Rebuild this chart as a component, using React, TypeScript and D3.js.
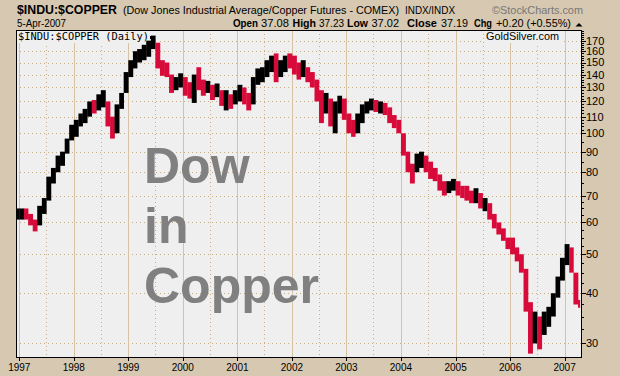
import React from "react";
import * as d3 from "d3";

const W = 620;
const H = 376;
const PL = 16, PT = 30, PR = 582, PB = 358;

// monthly bars, Dec 1996 .. Apr 2007 (Apr 2007 partial, to 5-Apr)
const firstMonth = new Date(1996, 11, 1);
const lastDay = new Date(2007, 3, 5);

const highs = [
  65,
  65, 65, 63, 61, 66, 69, 78, 82, 88, 90, 97, 105,
  108, 112, 115, 120, 121, 125, 128, 120, 110, 118, 126, 142,
  152, 160, 162, 166, 170, 175, 168, 152, 150, 140, 138, 141,
  138, 134, 140, 146, 136, 135, 132, 133, 128, 128, 125, 128,
  132, 130, 126, 138, 145, 146, 152, 156, 158, 152, 156, 158,
  156, 150, 152, 146, 142, 136, 128, 126, 122, 120, 124, 122,
  112, 108, 112, 118, 120, 122, 121, 120, 119, 116, 111, 108,
  100, 90, 84, 89, 90, 88, 85, 82, 79, 76, 76, 77,
  76, 74, 74, 72, 73, 71, 69, 67, 63, 60, 58, 55,
  55, 52, 50, 46, 38, 36, 35, 36, 37, 40, 44, 49,
  53, 52, 45, 38.5,
];
const lows = [
  61,
  61, 61, 59, 57, 59, 63, 68, 75, 80, 83, 89, 96,
  98, 104, 106, 110, 112, 114, 116, 104, 97, 100, 115, 126,
  138, 145, 150, 152, 155, 162, 145, 139, 138, 126, 128, 130,
  124, 122, 119, 128, 124, 126, 121, 123, 117, 114, 115, 118,
  120, 118, 114, 118, 132, 134, 138, 142, 134, 138, 142, 145,
  140, 136, 138, 134, 130, 120, 106, 112, 104, 100, 112, 108,
  100, 98, 100, 106, 112, 114, 113, 112, 111, 106, 103, 100,
  88, 80, 75, 80, 82, 80, 77, 76, 72, 70, 71, 72,
  70, 69, 68, 67, 67, 65, 64, 61, 58, 56, 54, 51.5,
  50, 48, 45, 36, 28.3, 30, 29, 31.5, 33, 35, 39, 43,
  47, 45, 37.5, 36.8,
];
const closes = [
  63,
  63, 62, 60, 59, 65, 66, 76, 80, 86, 88, 95, 102,
  104, 110, 112, 117, 115, 120, 122, 105, 102, 115, 122, 138,
  146, 155, 156, 160, 166, 170, 148, 145, 142, 130, 134, 135,
  128, 125, 136, 134, 130, 130, 124, 128, 120, 124, 120, 124,
  128, 122, 118, 135, 140, 140, 148, 150, 145, 146, 152, 150,
  146, 140, 146, 138, 134, 124, 118, 120, 108, 116, 120, 112,
  104, 102, 108, 115, 118, 120, 117, 118, 115, 109, 106, 102,
  91, 82, 80, 86, 86, 84, 79, 78, 74, 72, 74, 75,
  72, 71, 70, 68, 71, 66, 66, 63, 60, 58, 55, 53,
  51, 49, 46, 37, 31, 33, 31, 34, 36, 38, 43, 47,
  51, 47, 40, 37.2,
];

const yTickValues = [30, 40, 50, 60, 70, 80, 90, 100, 110, 120, 130, 140, 150, 160, 170];
const yearLabels = ["1997", "1998", "1999", "2000", "2001", "2002", "2003", "2004", "2005", "2006", "2007"];

const BG = "#d6c8b1";
const PLOT_BG = "#efefef";
const GRID_SOLID = "#d5c3a4";
const GRID_DOT = "#c8ad84";
const UP = "#000000";
const DOWN = "#d80a3a";
const FONT = "'Liberation Sans', Arial, sans-serif";

export default function App() {
  const x = d3
    .scaleTime()
    .domain([new Date(1997, 0, 1), new Date(2007, 0, 1)])
    .range([19.3, 564.6]);
  const y = d3.scaleLog().domain([27.6, 180.7]).range([PB, PT]);

  const months = d3.timeMonth.range(firstMonth, d3.timeMonth.offset(firstMonth, highs.length));
  const n = highs.length;

  const bars = months.map((m, i) => {
    const x0 = x(m);
    const x1 = i === n - 1 ? x(lastDay) + 1.2 : x(d3.timeMonth.offset(m, 1));
    const up = i === 0 ? true : closes[i] >= closes[i - 1];
    return { x0, w: Math.max(x1 - x0, 1.5) + 0.3, yh: y(highs[i]), yl: y(lows[i]), color: up ? UP : DOWN };
  });

  const years = yearLabels.map((l) => ({ label: l, date: new Date(+l, 0, 1) }));
  const midYears = yearLabels.slice(0, -1).map((l) => new Date(+l, 6, 1));

  const minorTicks: number[] = [];
  d3.range(27.5, 70, 2.5).forEach((v) => minorTicks.push(v));
  [75, 85, 95].forEach((v) => minorTicks.push(v));
  d3.range(102, 181, 2).forEach((v) => minorTicks.push(v));
  const minors = minorTicks.filter((v) => !yTickValues.includes(v) && y(v) >= PT && y(v) <= PB);

  return (
    <svg
      width={W}
      height={H}
      viewBox={`0 0 ${W} ${H}`}
      style={{ position: "absolute", left: 0, top: 0, display: "block" }}
      fontFamily={FONT}
    >
      <defs>
        <clipPath id="plotclip">
          <rect x={PL} y={PT} width={PR - PL} height={PB - PT} />
        </clipPath>
      </defs>
      <rect x={0} y={0} width={W} height={H} fill={BG} />

      {/* header line 1 */}
      <text x={17} y={14} fontSize={12.8} fontWeight="bold" textLength={100} lengthAdjust="spacingAndGlyphs">
        $INDU:$COPPER
      </text>
      <text x={123} y={14} fontSize={10.6} textLength={276} lengthAdjust="spacingAndGlyphs">
        (Dow Jones Industrial Average/Copper Futures - COMEX)
      </text>
      <text x={405} y={14} fontSize={10.5} textLength={50} lengthAdjust="spacingAndGlyphs">
        INDX/INDX
      </text>
      <text x={492} y={14} fontSize={11} fill="#777" textLength={91} lengthAdjust="spacingAndGlyphs">
        ©StockCharts.com
      </text>

      {/* header line 2 */}
      <text x={17} y={27} fontSize={11} textLength={49} lengthAdjust="spacingAndGlyphs">
        5-Apr-2007
      </text>
      {[
        { t: "Open", x: 233, w: 25, b: true },
        { t: "37.08", x: 261, w: 28, b: false },
        { t: "High", x: 292.5, w: 23.5, b: true },
        { t: "37.23", x: 319, w: 25, b: false },
        { t: "Low", x: 347, w: 21, b: true },
        { t: "37.02", x: 371.5, w: 27.5, b: false },
        { t: "Close", x: 407, w: 30, b: true },
        { t: "37.19", x: 441, w: 27, b: false },
        { t: "Chg", x: 474, w: 18, b: true },
        { t: "+0.20 (+0.55%)", x: 496, w: 75, b: false },
      ].map((d) => (
        <text
          key={d.t + d.x}
          x={d.x}
          y={27}
          fontSize={d.b ? 11.5 : 11}
          fontWeight={d.b ? "bold" : "normal"}
          textLength={d.w}
          lengthAdjust="spacingAndGlyphs"
        >
          {d.t}
        </text>
      ))}
      <path d="M575.5,26.5 L579,23 L582.5,26.5 Z" fill="#000" />

      {/* plot area */}
      <rect x={PL} y={PT} width={PR - PL} height={PB - PT} fill={PLOT_BG} />

      <g clipPath="url(#plotclip)">
        {yTickValues.map((v) => (
          <line
            key={"h" + v}
            x1={PL}
            x2={PR}
            y1={Math.round(y(v)) + 0.5}
            y2={Math.round(y(v)) + 0.5}
            stroke={GRID_DOT}
            strokeDasharray="1 3"
          />
        ))}
        {midYears.map((d, i) => (
          <line
            key={"mv" + i}
            x1={Math.round(x(d)) + 0.5}
            x2={Math.round(x(d)) + 0.5}
            y1={PT}
            y2={PB}
            stroke={GRID_DOT}
            strokeDasharray="1 3"
          />
        ))}
        {years.map((d) => (
          <line
            key={"yv" + d.label}
            x1={Math.round(x(d.date)) + 0.5}
            x2={Math.round(x(d.date)) + 0.5}
            y1={PT}
            y2={PB}
            stroke={GRID_SOLID}
          />
        ))}

        {/* label backgrounds */}
        <rect x={17} y={31} width={140} height={12} fill={PLOT_BG} />
        <rect x={484} y={31} width={78} height={12} fill={PLOT_BG} />

        {/* big watermark text */}
        <g fontSize={50} fontWeight="bold" fill="#808080">
          <text x={144} y={183}>Dow</text>
          <text x={144} y={243}>in</text>
          <text x={144} y={303}>Copper</text>
        </g>

        {/* price bars */}
        {bars.map((b, i) => (
          <rect key={"b" + i} x={b.x0} y={b.yh} width={b.w} height={Math.max(b.yl - b.yh, 1)} fill={b.color} />
        ))}
      </g>

      <text
        x={18}
        y={40}
        fontSize={10.5}
        fontFamily="'DejaVu Sans Mono', monospace"
        textLength={131}
        lengthAdjust="spacingAndGlyphs"
      >
        $INDU:$COPPER (Daily)
      </text>
      <rect x={150} y={36} width={3} height={3} fill="#000" />
      <text x={486} y={40} fontSize={11} textLength={73} lengthAdjust="spacingAndGlyphs">
        GoldSilver.com
      </text>

      {/* frame */}
      <rect x={PL + 0.5} y={PT + 0.5} width={PR - PL - 1} height={PB - PT - 1} fill="none" stroke="#000" />

      {/* right axis */}
      {yTickValues.map((v) => (
        <g key={"yt" + v}>
          <line x1={PR} x2={PR + 4} y1={Math.round(y(v)) + 0.5} y2={Math.round(y(v)) + 0.5} stroke="#000" />
          <text x={586} y={y(v)} dy="0.36em" fontSize={11}>
            {v}
          </text>
        </g>
      ))}
      {minors.map((v) => (
        <line key={"mt" + v} x1={PR} x2={PR + 2} y1={Math.round(y(v)) + 0.5} y2={Math.round(y(v)) + 0.5} stroke="#000" />
      ))}

      {/* bottom axis */}
      {years.map((d) => (
        <g key={"xt" + d.label}>
          <line
            x1={Math.round(x(d.date)) + 0.5}
            x2={Math.round(x(d.date)) + 0.5}
            y1={PB}
            y2={PB + 3}
            stroke="#000"
          />
          <text x={x(d.date)} y={371} fontSize={10} textAnchor="middle">
            {d.label}
          </text>
        </g>
      ))}
    </svg>
  );
}
